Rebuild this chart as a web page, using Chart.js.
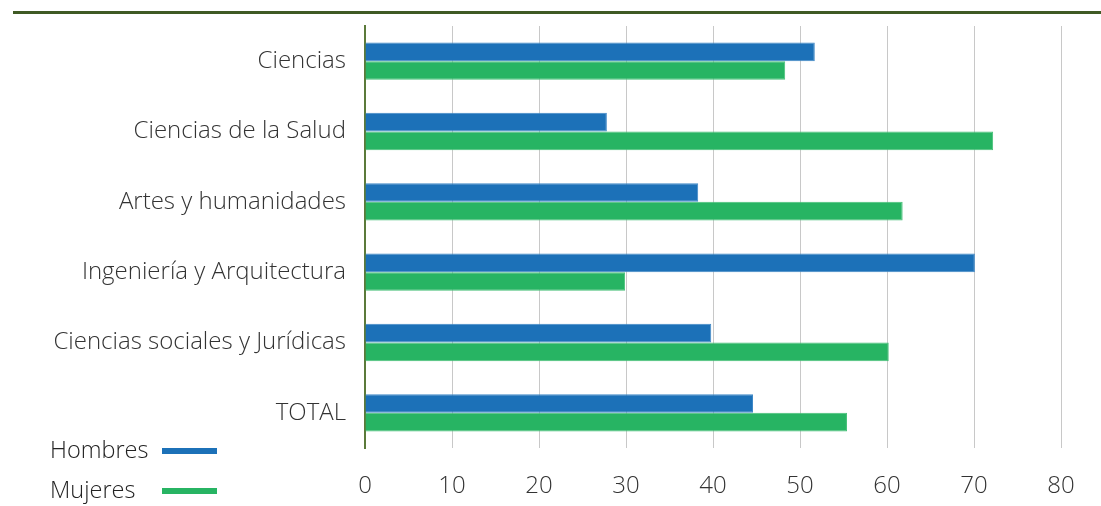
<!DOCTYPE html>
<html>
<head>
<meta charset="utf-8">
<script src="https://cdn.jsdelivr.net/npm/chart.js@4.4.1/dist/chart.umd.min.js"></script>
<style>
  html, body { margin: 0; padding: 0; background: #fff; }
  #wrap { position: relative; width: 1101px; height: 506px; overflow: hidden; }
  #topline { position: absolute; left: 13px; right: 0; top: 11px; height: 3px; background: #3f5a24; }
  #chartBox { position: absolute; left: 0; top: 0; width: 1101px; height: 506px; }
  #legend { position: absolute; left: 50px; top: 434px; font-family: 'Open Sans', sans-serif; font-weight: 300; font-size: 23.5px; color: #222; }
  .item { position: relative; height: 40px; line-height: 30px; }
  .item span.sw { position: absolute; left: 112px; top: 14px; width: 55px; height: 6px; }
</style>
</head>
<body>
<div id="wrap">
  <div id="topline"></div>
  <div id="chartBox"><canvas id="myChart" width="1101" height="506"></canvas></div>
  <div id="legend"></div>
</div>
<script>
// datos (%)
const categorias = ['Ciencias', 'Ciencias de la Salud', 'Artes y humanidades', 'Ingeniería y Arquitectura', 'Ciencias sociales y Jurídicas', 'TOTAL'];
const hombres = [51.7, 27.8, 38.3, 70.1, 39.8, 44.6];
const mujeres = [48.3, 72.2, 61.8, 29.9, 60.2, 55.4];
const ticksX = [0, 10, 20, 30, 40, 50, 60, 70, 80];

const fuente = 'Open Sans';
const colorTexto = '#333333';

const config = {
    type: 'bar',
    data: {
        labels: categorias,
        datasets: [
            {
                label: 'Hombres',
                data: hombres,
                backgroundColor: '#1c71b8',
                borderColor: '#3f88c6',
                borderWidth: 1,
                categoryPercentage: 0.53,
                barPercentage: 1.0
            },
            {
                label: 'Mujeres',
                data: mujeres,
                backgroundColor: '#27b463',
                borderColor: '#45c077',
                borderWidth: 1,
                categoryPercentage: 0.53,
                barPercentage: 1.0
            }
        ]
    },
    options: {
        indexAxis: 'y',
        responsive: false,
        animation: false,
        layout: { padding: { top: 26, right: 40, left: 0, bottom: 0 } },
        scales: {
            x: {
                min: 0,
                max: 80,
                afterBuildTicks: (s) => { s.ticks = ticksX.map(v => ({ value: v })); },
                afterFit: (s) => { s.height = 58; },
                grid: {
                    drawTicks: false,
                    color: (ctx) => ctx.tick && ctx.tick.value === 0 ? 'rgba(0,0,0,0)' : '#c8c8c8',
                    lineWidth: 1
                },
                border: { display: false },
                ticks: {
                    padding: 24,
                    color: colorTexto,
                    font: { family: fuente, size: 24, weight: 300 }
                }
            },
            y: {
                afterFit: (s) => { s.width = 365; s.paddingTop = 0; s.paddingBottom = 0; },
                grid: { display: false, drawTicks: false },
                border: { display: true, color: '#5b7a3a', width: 2 },
                ticks: {
                    padding: 19,
                    color: colorTexto,
                    font: { family: fuente, size: 24, weight: 300 }
                }
            }
        },
        plugins: {
            legend: { display: false },
            tooltip: { enabled: false }
        }
    }
};

const ctx = document.getElementById('myChart').getContext('2d');
window.myChart = new Chart(ctx, config);

// leyenda propia, abajo a la izquierda
const legend = document.getElementById('legend');
window.myChart.data.datasets.forEach(ds => {
    const item = document.createElement('div');
    item.className = 'item';
    item.textContent = ds.label;
    const sw = document.createElement('span');
    sw.className = 'sw';
    sw.style.background = ds.backgroundColor;
    item.appendChild(sw);
    legend.appendChild(item);
});
</script>
</body>
</html>
